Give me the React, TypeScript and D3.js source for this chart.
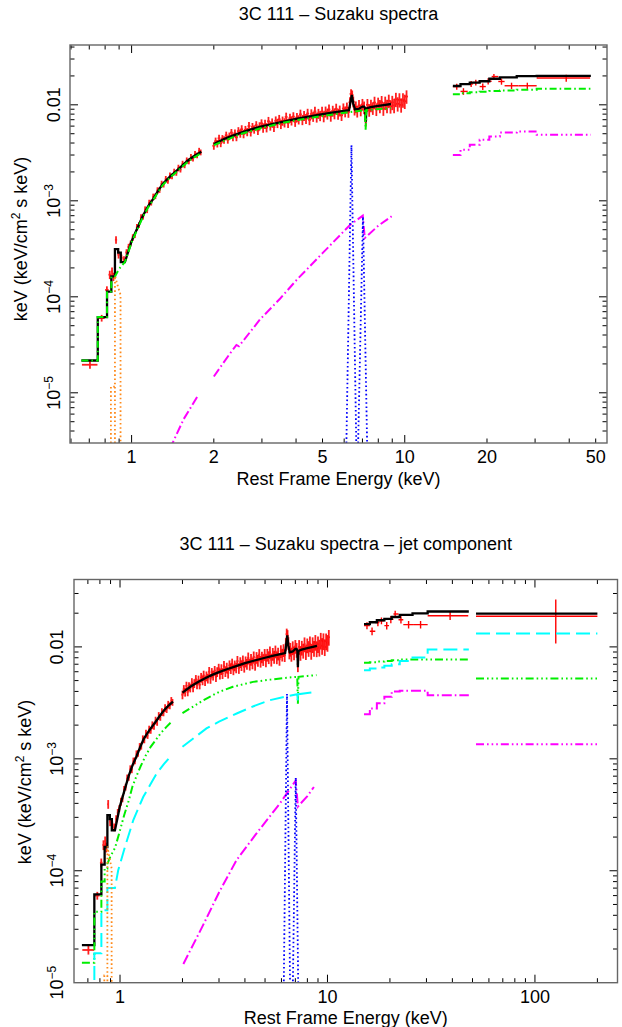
import React from 'react';
import * as d3 from 'd3';

type P = [number, number];

const FONT = '"Liberation Sans", Arial, Helvetica, sans-serif';

// ---------------- Data: XIS soft band (keV, keV^2 flux, relative error, half bin width) -------------
const xisLowE = [0.704, 0.777, 0.812, 0.832, 0.848, 0.858, 0.877, 0.896, 0.918, 0.938, 0.958, 0.975, 0.992, 1.01, 1.028, 1.046, 1.064, 1.083, 1.102, 1.121, 1.14, 1.16, 1.18, 1.2, 1.222, 1.244, 1.266, 1.288, 1.31, 1.334, 1.358, 1.382, 1.406, 1.432, 1.458, 1.484, 1.51, 1.537, 1.564, 1.592, 1.62, 1.649, 1.678, 1.707, 1.737, 1.767, 1.79];
const xisLowF = [1.96e-5, 6.0e-5, 1.18e-4, 1.7e-4, 1.84e-4, 1.62e-4, 3.93e-4, 2.75e-4, 2.55e-4, 2.45e-4, 2.9e-4, 3.3e-4, 3.6e-4, 4.15e-4, 4.4e-4, 5.3e-4, 5.6e-4, 6.7e-4, 6.85e-4, 8.1e-4, 8.0e-4, 9.5e-4, 9.6e-4, 1.1e-3, 1.12e-3, 1.28e-3, 1.3e-3, 1.5e-3, 1.48e-3, 1.68e-3, 1.62e-3, 1.83e-3, 1.8e-3, 2.0e-3, 1.96e-3, 2.2e-3, 2.12e-3, 2.42e-3, 2.35e-3, 2.62e-3, 2.58e-3, 2.85e-3, 2.76e-3, 3.05e-3, 2.98e-3, 3.3e-3, 3.2e-3];
const xisLowRelErr = [0.09, 0.08, 0.09, 0.1, 0.1, 0.1, 0.09, 0.09, 0.08, 0.08, 0.08, 0.08, 0.07, 0.08, 0.07, 0.08, 0.07, 0.08, 0.07, 0.08, 0.07, 0.08, 0.07, 0.08, 0.07, 0.08, 0.07, 0.08, 0.07, 0.08, 0.07, 0.08, 0.07, 0.08, 0.07, 0.08, 0.07, 0.08, 0.07, 0.08, 0.07, 0.08, 0.07, 0.08, 0.07, 0.08, 0.07];
const xisLowHalfBin = [0.046, 0.02, 0.012, 0.009, 0.007, 0.006, 0.008, 0.009, 0.009, 0.009, 0.009, 0.009, 0.009, 0.009, 0.009, 0.009, 0.009, 0.01, 0.01, 0.01, 0.01, 0.01, 0.01, 0.01, 0.011, 0.011, 0.011, 0.011, 0.011, 0.012, 0.012, 0.012, 0.012, 0.013, 0.013, 0.013, 0.013, 0.013, 0.014, 0.014, 0.014, 0.014, 0.015, 0.015, 0.015, 0.015, 0.012];

// ---------------- Data: XIS hard band [E, flux, relative error] ----------------
const xisHigh: [number, number, number][] = [
  [2.0, 3.74e-3, 0.09], [2.03, 4.18e-3, 0.09], [2.06, 3.95e-3, 0.09], [2.09, 4.48e-3, 0.09], [2.12, 3.98e-3, 0.09],
  [2.15, 4.44e-3, 0.09], [2.18, 4.31e-3, 0.09], [2.22, 4.82e-3, 0.09], [2.25, 4.33e-3, 0.09], [2.28, 4.72e-3, 0.09],
  [2.32, 5.14e-3, 0.09], [2.35, 4.6e-3, 0.09], [2.39, 5.08e-3, 0.09], [2.42, 4.59e-3, 0.09], [2.46, 5.32e-3, 0.1],
  [2.5, 5.05e-3, 0.1], [2.53, 5.57e-3, 0.1], [2.57, 4.98e-3, 0.1], [2.61, 5.48e-3, 0.1], [2.65, 5.23e-3, 0.1],
  [2.69, 6.01e-3, 0.1], [2.73, 5.2e-3, 0.1], [2.77, 5.88e-3, 0.1], [2.81, 5.56e-3, 0.1], [2.86, 6.14e-3, 0.1],
  [2.9, 5.39e-3, 0.1], [2.94, 5.98e-3, 0.1], [2.99, 6.42e-3, 0.1], [3.03, 5.75e-3, 0.11], [3.08, 6.3e-3, 0.11],
  [3.12, 5.8e-3, 0.11], [3.17, 6.74e-3, 0.11], [3.22, 6.05e-3, 0.11], [3.27, 6.5e-3, 0.11], [3.32, 5.86e-3, 0.11],
  [3.37, 6.82e-3, 0.11], [3.42, 6.43e-3, 0.11], [3.47, 7.07e-3, 0.11], [3.52, 6.28e-3, 0.11], [3.57, 6.8e-3, 0.11],
  [3.63, 6.53e-3, 0.11], [3.68, 7.47e-3, 0.11], [3.74, 6.45e-3, 0.11], [3.8, 7.28e-3, 0.11], [3.85, 6.84e-3, 0.11],
  [3.91, 7.54e-3, 0.11], [3.97, 6.62e-3, 0.11], [4.03, 7.4e-3, 0.11], [4.09, 7.01e-3, 0.11], [4.15, 7.95e-3, 0.12],
  [4.22, 6.98e-3, 0.12], [4.28, 7.7e-3, 0.12], [4.35, 7.17e-3, 0.12], [4.41, 8.12e-3, 0.12], [4.48, 6.97e-3, 0.12],
  [4.55, 8.02e-3, 0.12], [4.62, 7.55e-3, 0.12], [4.69, 8.53e-3, 0.12], [4.76, 7.42e-3, 0.12], [4.83, 8.1e-3, 0.12],
  [4.9, 7.68e-3, 0.12], [4.98, 8.54e-3, 0.12], [5.05, 7.56e-3, 0.13], [5.13, 8.49e-3, 0.13], [5.21, 8.07e-3, 0.13],
  [5.28, 8.94e-3, 0.13], [5.36, 7.67e-3, 0.13], [5.45, 8.65e-3, 0.13], [5.53, 8.12e-3, 0.13], [5.61, 9.09e-3, 0.13],
  [5.7, 8.05e-3, 0.13], [5.78, 8.69e-3, 0.13], [5.87, 7.8e-3, 0.13], [5.96, 9.15e-3, 0.13], [6.05, 8.51e-3, 0.13],
  [6.14, 9.34e-3, 0.13], [6.22, 8.42e-3, 0.13], [6.3, 1.06e-2, 0.13], [6.36, 1.3e-2, 0.12], [6.42, 1.26e-2, 0.12],
  [6.48, 1.08e-2, 0.13], [6.55, 9.0e-3, 0.14], [6.62, 9.51e-3, 0.14], [6.7, 8.57e-3, 0.14], [6.8, 9.83e-3, 0.14],
  [6.9, 8.83e-3, 0.14], [7.0, 1.01e-2, 0.14], [7.1, 9.41e-3, 0.15], [7.2, 7.0e-3, 0.15], [7.3, 1.0e-2, 0.15],
  [7.41, 8.84e-3, 0.15], [7.52, 9.84e-3, 0.15], [7.64, 9.24e-3, 0.15], [7.75, 1.056e-2, 0.15], [7.87, 8.99e-3, 0.15],
  [7.99, 1.033e-2, 0.15], [8.11, 9.7e-3, 0.16], [8.23, 1.065e-2, 0.16], [8.35, 9.14e-3, 0.16], [8.48, 1.049e-2, 0.16],
  [8.61, 9.74e-3, 0.16], [8.74, 1.1e-2, 0.16], [8.87, 9.64e-3, 0.16], [9.0, 1.06e-2, 0.17], [9.14, 9.87e-3, 0.17],
  [9.28, 1.14e-2, 0.17], [9.42, 1.024e-2, 0.17], [9.56, 1.128e-2, 0.17], [9.7, 9.98e-3, 0.17], [9.85, 1.125e-2, 0.17],
  [10.0, 1.09e-2, 0.17], [10.15, 1.22e-2, 0.16],
];
const xisHighHalfBinRel = 0.012;

// ---------------- Data: HXD/PIN ----------------
const pinE = [15.5, 16.4, 17.5, 18.2, 19.3, 20.2, 21.2, 22.6, 24.6, 28.1, 39.0];
const pinF = [0.0155, 0.0138, 0.0165, 0.0171, 0.0155, 0.0176, 0.0197, 0.0175, 0.0158, 0.0158, 0.019];
const pinELo = [15.0, 16.0, 17.0, 17.8, 18.8, 19.8, 20.8, 22.0, 23.2, 26.1, 30.4];
const pinEHi = [16.0, 17.0, 17.8, 18.8, 19.8, 20.8, 22.0, 23.2, 26.1, 30.4, 47.7];
const pinFErr = [0.0011, 0.0011, 0.0012, 0.0012, 0.0012, 0.0013, 0.0013, 0.0013, 0.0012, 0.0012, 0.0016];

// ---------------- Data: broad high-energy bin (jet panel only) ----------------
const broadE = [126];
const broadF = [0.0188];
const broadELo = [52];
const broadEHi = [200];
const broadFLo = [0.0107];
const broadFHi = [0.0265];

// ---------------- Models ----------------
const lowEdges = [0.655, 0.752, 0.813, 0.843, 0.869, 0.893, 0.913, 0.945];
const totalLowBins = [2.17e-5, 6.15e-5, 1.135e-4, 1.63e-4, 3.14e-4, 2.89e-4, 2.3e-4];
const totalLowCurve: P[] = [[0.945, 2.3e-4], [0.97, 2.9e-4], [1.0, 3.8e-4], [1.05, 5.2e-4], [1.1, 7.0e-4], [1.15, 8.8e-4], [1.2, 1.05e-3], [1.25, 1.27e-3], [1.3, 1.5e-3], [1.35, 1.68e-3], [1.4, 1.85e-3], [1.45, 2.02e-3], [1.5, 2.2e-3], [1.55, 2.4e-3], [1.6, 2.6e-3], [1.65, 2.78e-3], [1.7, 2.95e-3], [1.75, 3.1e-3], [1.8, 3.25e-3]];
const totalHigh: P[] = [[2.0, 3.9e-3], [2.2, 4.45e-3], [2.4, 4.9e-3], [2.6, 5.3e-3], [2.8, 5.65e-3], [3.0, 5.95e-3], [3.3, 6.35e-3], [3.6, 6.7e-3], [4.0, 7.15e-3], [4.5, 7.6e-3], [5.0, 8.0e-3], [5.5, 8.35e-3], [6.0, 8.65e-3], [6.25, 8.8e-3], [6.32, 1.05e-2], [6.4, 1.27e-2], [6.48, 1.02e-2], [6.58, 8.95e-3], [6.8, 9.1e-3], [7.0, 9.6e-3], [7.1, 9.6e-3], [7.16, 9.2e-3], [7.2, 6.6e-3], [7.24, 9.2e-3], [7.5, 9.45e-3], [8.0, 9.75e-3], [8.5, 1.0e-2], [8.9, 1.02e-2]];

const pinEdges = [15.0, 16.0, 17.3, 18.8, 20.4, 22.3, 25.7, 30.4, 48.0];
const pinTotalTop = [0.0157, 0.0164, 0.017, 0.0176, 0.0187, 0.0193, 0.0199, 0.02];
const pinGreenTop = [0.0129, 0.0132, 0.0135, 0.0137, 0.0139, 0.0141, 0.0144, 0.0147];
const pinMagentaTop = [3.0e-3, 3.4e-3, 3.83e-3, 4.32e-3, 4.68e-3, 5.14e-3, 5.27e-3, 4.87e-3];
const pinTotalBottom = [0.016, 0.0166, 0.0173, 0.0178, 0.0185, 0.0193, 0.0199, 0.0207];
const pinGreenBottom = [7.2e-3, 7.3e-3, 7.4e-3, 7.5e-3, 7.6e-3, 7.7e-3, 7.72e-3, 7.72e-3];
const pinCyanBottom = [6.2e-3, 6.4e-3, 6.55e-3, 6.8e-3, 7.0e-3, 7.5e-3, 8.05e-3, 9.48e-3];
const pinMagentaBottom = [2.5e-3, 2.82e-3, 3.13e-3, 3.58e-3, 4.0e-3, 4.05e-3, 4.05e-3, 3.7e-3];

const broadEdges = [52, 200];
const broadTotal = [0.0198];
const broadGreen = [5.23e-3];
const broadCyan = [0.0132];
const broadMagenta = [1.35e-3];

// top panel components
const greenTopLowBins = [2.17e-5, 6.15e-5, 1.135e-4, 1.63e-4];
const greenTopLowCurve: P[] = [[0.869, 1.63e-4], [0.9, 1.95e-4], [0.945, 2.3e-4], [0.97, 2.85e-4], [1.0, 3.7e-4], [1.05, 5.05e-4], [1.1, 6.8e-4], [1.15, 8.55e-4], [1.2, 1.02e-3], [1.25, 1.23e-3], [1.3, 1.46e-3], [1.35, 1.63e-3], [1.4, 1.8e-3], [1.45, 1.96e-3], [1.5, 2.14e-3], [1.55, 2.33e-3], [1.6, 2.52e-3], [1.65, 2.7e-3], [1.7, 2.86e-3], [1.75, 3.0e-3], [1.8, 3.15e-3]];
const greenTopHigh: P[] = [[2.0, 3.8e-3], [2.5, 4.95e-3], [3.0, 5.75e-3], [3.5, 6.4e-3], [4.0, 6.9e-3], [4.5, 7.3e-3], [5.0, 7.65e-3], [5.5, 7.95e-3], [6.0, 8.25e-3], [6.5, 8.5e-3], [7.0, 8.75e-3], [7.15, 8.8e-3], [7.19, 5.5e-3], [7.23, 8.8e-3], [7.5, 8.9e-3], [8.0, 9.05e-3], [8.5, 9.15e-3], [8.9, 9.25e-3]];
const magentaTopA: P[] = [[1.38, 2.6e-6], [1.55, 5.3e-6], [1.755, 9.5e-6]];
const magentaTopB: P[] = [[2.0, 1.48e-5], [2.3, 2.6e-5], [2.42, 3.15e-5], [2.47, 3.05e-5], [2.95, 5.8e-5], [3.5, 9.6e-5], [4.02, 1.5e-4], [5.0, 2.85e-4], [6.3, 5.6e-4], [7.02, 7.0e-4], [7.14, 4.1e-4], [8.0, 5.5e-4], [8.95, 6.9e-4]];

// bottom (jet) panel components
const greenBotLowBins = [1.51e-5, 4.3e-5, 8.0e-5, 1.05e-4];
const greenBotLowCurve: P[] = [[0.869, 1.15e-4], [0.9, 1.35e-4], [0.946, 1.6e-4], [1.0, 2.3e-4], [1.045, 3.1e-4], [1.1, 4.2e-4], [1.146, 5.6e-4], [1.2, 7.0e-4], [1.258, 8.6e-4], [1.33, 1.07e-3], [1.405, 1.28e-3], [1.49, 1.48e-3], [1.57, 1.69e-3], [1.67, 1.92e-3], [1.77, 2.14e-3]];
const greenBotHigh: P[] = [[2.0, 2.56e-3], [2.5, 3.3e-3], [3.0, 3.96e-3], [3.5, 4.4e-3], [4.38, 4.87e-3], [5.3, 5.1e-3], [6.35, 5.3e-3], [7.15, 5.4e-3], [7.2, 3.1e-3], [7.25, 5.4e-3], [8.0, 5.5e-3], [8.85, 5.6e-3]];
const cyanLowEdges = [0.655, 0.752, 0.813, 0.869, 0.945];
const cyanBotLowBins = [6e-6, 1.83e-5, 4.45e-5, 7.0e-5];
const cyanBotLowCurve: P[] = [[0.945, 7.0e-5], [0.98, 1.01e-4], [1.057, 1.64e-4], [1.159, 2.84e-4], [1.295, 4.58e-4], [1.4, 5.9e-4], [1.502, 7.4e-4], [1.63, 9.0e-4], [1.774, 1.08e-3]];
const cyanBotHigh: P[] = [[2.0, 1.28e-3], [2.61, 1.87e-3], [3.0, 2.15e-3], [3.65, 2.54e-3], [4.4, 2.95e-3], [5.27, 3.34e-3], [6.3, 3.6e-3], [7.15, 3.78e-3], [7.2, 3.3e-3], [7.25, 3.78e-3], [8.0, 3.88e-3], [8.85, 3.96e-3]];
const magentaBot: P[] = [[2.02, 1.47e-5], [2.5, 3.2e-5], [3.0, 6.4e-5], [3.65, 1.25e-4], [4.5, 2.1e-4], [5.9, 4.0e-4], [7.03, 6.4e-4], [7.2, 3.75e-4], [8.0, 4.65e-4], [8.6, 5.6e-4]];

// emission lines (shared)
const orangeA: P[] = [[0.84, 2e-6], [0.84, 1.16e-5], [0.869, 1.16e-5]];
const orangeB: P[] = [[0.869, 2e-6], [0.869, 1.65e-4], [0.89, 1.3e-4], [0.911, 1.05e-4], [0.911, 2e-6]];
const blueKa: P[] = [[6.1, 2e-6], [6.38, 3.8e-3], [6.66, 2e-6]];
const blueKb: P[] = [[6.73, 2e-6], [7.03, 6.8e-4], [7.3, 2e-6]];

// ---------------- helpers ----------------
function steps(edges: number[], vals: number[]): P[] {
  const out: P[] = [];
  vals.forEach((v, i) => {
    out.push([edges[i], v]);
    out.push([edges[i + 1], v]);
  });
  return out;
}

interface Curve { pts: P[]; color: string; dash?: string; width: number }
interface Bar { e: number; elo: number; ehi: number; f: number; flo: number; fhi: number; soft?: boolean }

const bars: Bar[] = [];
xisLowE.forEach((e, i) => bars.push({ e, elo: e - xisLowHalfBin[i], ehi: e + xisLowHalfBin[i], f: xisLowF[i], flo: xisLowF[i] * (1 - xisLowRelErr[i]), fhi: xisLowF[i] * (1 + xisLowRelErr[i]), soft: true }));
xisHigh.forEach(([e, f, r]) => bars.push({ e, elo: e * (1 - xisHighHalfBinRel), ehi: e * (1 + xisHighHalfBinRel), f, flo: f * (1 - r), fhi: f * (1 + r), soft: true }));
pinE.forEach((e, i) => bars.push({ e, elo: pinELo[i], ehi: pinEHi[i], f: pinF[i], flo: pinF[i] - pinFErr[i], fhi: pinF[i] + pinFErr[i] }));
const broadBars: Bar[] = broadE.map((e, i) => ({ e, elo: broadELo[i], ehi: broadEHi[i], f: broadF[i], flo: broadFLo[i], fhi: broadFHi[i] }));

const GREEN = '#00ee00';
const CYAN = '#00ffff';
const MAGENTA = '#ff00ff';
const ORANGE = '#ff8a1a';
const BLUE = '#0000ff';
const DOT = '1.6,2.6';
const DASHDOT = '9,3,1.6,3';
const DASH3DOT = '8,3,1.6,3,1.6,3,1.6,3';

const totalLow = [...steps(lowEdges, totalLowBins), ...totalLowCurve];

const topCurves: Curve[] = [
  { pts: totalLow, color: '#000', width: 2.3 },
  { pts: totalHigh, color: '#000', width: 2.3 },
  { pts: steps(pinEdges, pinTotalTop), color: '#000', width: 2.3 },
  { pts: [...steps(lowEdges.slice(0, 5), greenTopLowBins), ...greenTopLowCurve], color: GREEN, dash: '7,3,1.6,3', width: 2 },
  { pts: greenTopHigh, color: GREEN, dash: '7,3,1.6,3', width: 2 },
  { pts: steps(pinEdges, pinGreenTop), color: GREEN, dash: '7,3,1.6,3', width: 2 },
  { pts: magentaTopA, color: MAGENTA, dash: DASHDOT, width: 2 },
  { pts: magentaTopB, color: MAGENTA, dash: DASHDOT, width: 2 },
  { pts: steps(pinEdges, pinMagentaTop), color: MAGENTA, dash: DASH3DOT, width: 2 },
  { pts: orangeA, color: ORANGE, dash: DOT, width: 1.8 },
  { pts: orangeB, color: ORANGE, dash: DOT, width: 1.8 },
  { pts: blueKa, color: BLUE, dash: DOT, width: 1.8 },
  { pts: blueKb, color: BLUE, dash: DOT, width: 1.8 },
];

const botCurves: Curve[] = [
  { pts: totalLow, color: '#000', width: 2.3 },
  { pts: totalHigh, color: '#000', width: 2.3 },
  { pts: steps(pinEdges, pinTotalBottom), color: '#000', width: 2.3 },
  { pts: steps(broadEdges, broadTotal), color: '#000', width: 2.3 },
  { pts: [...steps(lowEdges.slice(0, 5), greenBotLowBins), ...greenBotLowCurve], color: GREEN, dash: DASH3DOT, width: 2 },
  { pts: greenBotHigh, color: GREEN, dash: DASH3DOT, width: 2 },
  { pts: steps(pinEdges, pinGreenBottom), color: GREEN, dash: DASH3DOT, width: 2 },
  { pts: steps(broadEdges, broadGreen), color: GREEN, dash: DASH3DOT, width: 2 },
  { pts: [...steps(cyanLowEdges, cyanBotLowBins), ...cyanBotLowCurve], color: CYAN, dash: '14,6', width: 2 },
  { pts: cyanBotHigh, color: CYAN, dash: '14,6', width: 2 },
  { pts: steps(pinEdges, pinCyanBottom), color: CYAN, dash: '14,6', width: 2 },
  { pts: steps(broadEdges, broadCyan), color: CYAN, dash: '14,6', width: 2 },
  { pts: magentaBot, color: MAGENTA, dash: '10,3,1.6,3', width: 2 },
  { pts: steps(pinEdges, pinMagentaBottom), color: MAGENTA, dash: '10,3,1.6,3', width: 2 },
  { pts: steps(broadEdges, broadMagenta), color: MAGENTA, dash: DASH3DOT, width: 2 },
  { pts: orangeA, color: ORANGE, dash: DOT, width: 1.8 },
  { pts: orangeB, color: ORANGE, dash: DOT, width: 1.8 },
  { pts: blueKa, color: BLUE, dash: DOT, width: 1.8 },
  { pts: blueKb, color: BLUE, dash: DOT, width: 1.8 },
];

interface PanelSpec {
  id: string;
  left: number; right: number; top: number; bottom: number;
  xDomain: [number, number]; yDomain: [number, number];
  title: string; titleY: number;
  xLabels: number[]; yLabels: number[];
  yTickLabelX: number; yTitleX: number; yTitleY: number;
  curves: Curve[]; bars: Bar[];
}

const xTickLabels1 = [1, 2, 5, 10, 20, 50];
const xTickLabels2 = [1, 10, 100];
const yTickLabels = [1e-5, 1e-4, 1e-3, 0.01];

const panels: PanelSpec[] = [
  {
    id: 'p1', left: 70, right: 607, top: 45, bottom: 443,
    xDomain: [0.595, 55], yDomain: [3.0e-6, 0.042],
    title: '3C 111 \u2013 Suzaku spectra', titleY: 20,
    xLabels: xTickLabels1, yLabels: yTickLabels,
    yTickLabelX: 60, yTitleX: 27, yTitleY: 239,
    curves: topCurves, bars,
  },
  {
    id: 'p2', left: 74, right: 617.5, top: 579.5, bottom: 982.7,
    xDomain: [0.6, 250], yDomain: [1e-5, 0.04],
    title: '3C 111 \u2013 Suzaku spectra \u2013 jet component', titleY: 550,
    xLabels: xTickLabels2, yLabels: yTickLabels,
    yTickLabelX: 63, yTitleX: 31, yTitleY: 782,
    curves: botCurves, bars: [...bars, ...broadBars],
  },
];

function decadeTicks(lo: number, hi: number) {
  const out: { v: number; major: boolean }[] = [];
  for (let k = Math.floor(Math.log10(lo)); k <= Math.ceil(Math.log10(hi)); k++) {
    for (let m = 1; m <= 9; m++) {
      const v = m * Math.pow(10, k);
      if (v >= lo * 1.0001 && v <= hi / 1.0001) out.push({ v, major: m === 1 });
    }
  }
  return out;
}

function yLabel(v: number) {
  if (Math.abs(v - 0.01) < 1e-9) return <tspan>0.01</tspan>;
  const k = Math.round(Math.log10(v));
  return (
    <>
      <tspan>10</tspan>
      <tspan fontSize={12} dy={-7}>{'\u2212' + Math.abs(k)}</tspan>
    </>
  );
}

function Panel({ s }: { s: PanelSpec }) {
  const x = d3.scaleLog().domain(s.xDomain).range([s.left, s.right]);
  const y = d3.scaleLog().domain(s.yDomain).range([s.bottom, s.top]);
  const line = d3.line<P>().x((d) => x(d[0])).y((d) => y(d[1]));
  const xt = decadeTicks(s.xDomain[0], s.xDomain[1]);
  const yt = decadeTicks(s.yDomain[0], s.yDomain[1]);
  const cx = (s.left + s.right) / 2;
  const clipId = `clip-${s.id}`;
  return (
    <g>
      <defs>
        <clipPath id={clipId}>
          <rect x={s.left} y={s.top} width={s.right - s.left} height={s.bottom - s.top} />
        </clipPath>
      </defs>
      <text x={cx} y={s.titleY} textAnchor="middle" fontSize={18} fontFamily={FONT}>{s.title}</text>

      <g clipPath={`url(#${clipId})`}>
        {s.bars.map((b, i) => (
          <g key={i} stroke="#ff0000" strokeWidth={b.soft ? 1.8 : 1.4} opacity={b.soft ? 0.88 : 1}>
            <line x1={x(b.e)} x2={x(b.e)} y1={y(Math.max(b.flo, 1e-9))} y2={y(b.fhi)} />
            <line x1={x(b.elo)} x2={x(b.ehi)} y1={y(b.f)} y2={y(b.f)} />
          </g>
        ))}
        {s.curves.map((c, i) => (
          <path key={i} d={line(c.pts) || ''} fill="none" stroke={c.color} strokeWidth={c.width}
            strokeDasharray={c.dash} strokeLinejoin="miter" strokeLinecap="butt" />
        ))}
      </g>

      {/* ticks */}
      <g stroke="#000" strokeWidth={1}>
        {xt.map((t, i) => {
          const px = x(t.v);
          const len = t.major ? 8 : 4.5;
          return (
            <g key={'x' + i}>
              <line x1={px} x2={px} y1={s.bottom} y2={s.bottom - len} />
              <line x1={px} x2={px} y1={s.top} y2={s.top + len} />
            </g>
          );
        })}
        {yt.map((t, i) => {
          const py = y(t.v);
          const len = t.major ? 8 : 4.5;
          return (
            <g key={'y' + i}>
              <line x1={s.left} x2={s.left + len} y1={py} y2={py} />
              <line x1={s.right} x2={s.right - len} y1={py} y2={py} />
            </g>
          );
        })}
      </g>
      <rect x={s.left} y={s.top} width={s.right - s.left} height={s.bottom - s.top} fill="none" stroke="#666" strokeWidth={1.4} />

      {s.xLabels.map((v) => (
        <text key={'xl' + v} x={x(v)} y={s.bottom + 20} textAnchor="middle" fontSize={18} fontFamily={FONT}>{String(v)}</text>
      ))}
      <text x={cx} y={s.bottom + 41.5} textAnchor="middle" fontSize={18} fontFamily={FONT}>Rest Frame Energy (keV)</text>

      {s.yLabels.map((v) => (
        <text key={'yl' + v} transform={`translate(${s.yTickLabelX},${y(v)}) rotate(-90)`} textAnchor="middle" fontSize={18} fontFamily={FONT}>
          {yLabel(v)}
        </text>
      ))}
      <text transform={`translate(${s.yTitleX},${s.yTitleY}) rotate(-90)`} textAnchor="middle" fontSize={18} fontFamily={FONT}>
        <tspan>keV (keV/cm</tspan>
        <tspan fontSize={12} dy={-7}>2</tspan>
        <tspan dy={7}> s keV)</tspan>
      </text>
    </g>
  );
}

export default function App() {
  return (
    <svg width={622} height={1027} viewBox="0 0 622 1027" style={{ position: 'absolute', left: 0, top: 0, background: '#fff' }}>
      <rect x={0} y={0} width={622} height={1027} fill="#fff" />
      {panels.map((p) => (
        <Panel key={p.id} s={p} />
      ))}
    </svg>
  );
}
